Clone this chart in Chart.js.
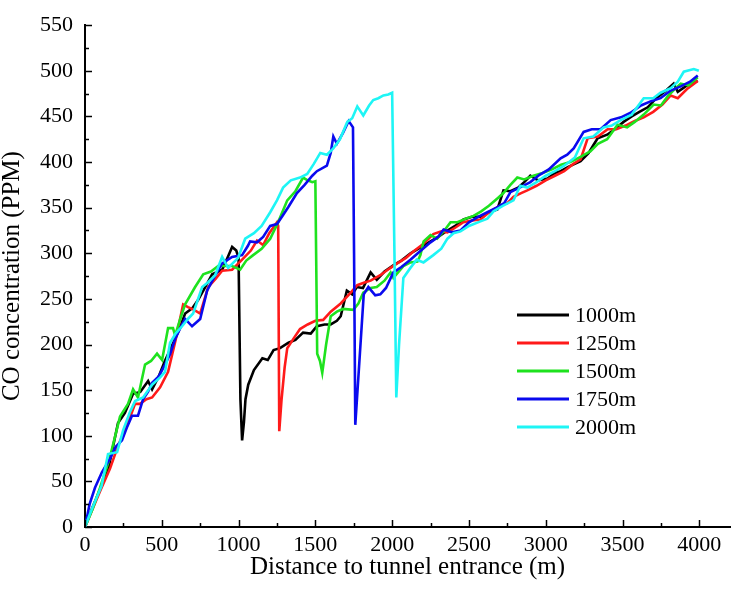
<!DOCTYPE html>
<html><head><meta charset="utf-8">
<script src="https://cdn.jsdelivr.net/npm/chart.js@4.4.0/dist/chart.umd.min.js"></script>
<style>html,body{margin:0;padding:0;background:#fff}#wrap{width:731px;height:592px}</style>
</head><body><div id="wrap"><canvas id="c" width="731" height="592"></canvas></div>
<script>
// ---- data ----
const seriesNames = ['1000m', '1250m', '1500m', '1750m', '2000m'];
const xTickValues = [0, 500, 1000, 1500, 2000, 2500, 3000, 3500, 4000];
const yTickValues = [0, 50, 100, 150, 200, 250, 300, 350, 400, 450, 500, 550];

const s1000 = [[0,0],[50,22],[100,42],[150,62],[215,114],[260,125],[313,146],[360,148],[411,160],[437,151],[480,165],[520,182],[567,199],[610,215],[652,234],[700,240],[737,249],[790,265],[828,277],[893,282],[930,296],[958,307],[985,303],[1000,295],[1012,140],[1023,95],[1035,115],[1045,140],[1063,156],[1100,172],[1155,185],[1190,183],[1228,194],[1270,196],[1325,202],[1370,205],[1420,213],[1470,212],[1510,220],[1560,222],[1600,222],[1640,226],[1665,231],[1705,259],[1740,255],[1770,263],[1810,262],[1860,279],[1900,271],[1950,280],[2010,287],[2060,292],[2120,300],[2180,306],[2250,313],[2300,318],[2360,325],[2410,330],[2465,337],[2520,340],[2575,340],[2630,345],[2685,348],[2725,369],[2770,368],[2820,372],[2860,378],[2900,385],[2950,380],[3012,382],[3060,388],[3097,390],[3150,395],[3227,401],[3280,410],[3312,419],[3338,426],[3400,430],[3450,436],[3507,444],[3560,450],[3610,455],[3664,460],[3720,470],[3780,478],[3833,486],[3860,477],[3920,484],[3990,489]];

const s1250 = [[0,0],[50,20],[100,40],[163,64],[215,89],[270,110],[326,135],[358,135],[400,140],[437,142],[489,153],[541,170],[590,205],[639,244],[671,241],[710,238],[750,234],[802,263],[850,272],[893,281],[958,282],[1023,293],[1080,303],[1120,314],[1160,309],[1200,322],[1250,334],[1258,330],[1265,105],[1280,140],[1300,175],[1317,196],[1360,207],[1400,217],[1450,222],[1500,226],[1551,227],[1600,236],[1665,245],[1720,255],[1773,265],[1820,268],[1860,270],[1923,276],[1980,283],[2033,289],[2090,295],[2138,302],[2200,310],[2268,321],[2320,324],[2360,323],[2410,328],[2464,334],[2520,336],[2575,337],[2640,346],[2700,352],[2750,355],[2790,362],[2840,366],[2880,369],[2940,374],[3000,380],[3060,385],[3120,390],[3180,398],[3227,403],[3273,426],[3340,428],[3403,436],[3460,436],[3520,440],[3580,445],[3638,449],[3700,455],[3760,463],[3814,473],[3860,470],[3920,480],[3990,489]];

const s1500 = [[0,0],[50,20],[98,43],[160,75],[228,121],[280,135],[313,151],[345,142],[391,178],[430,182],[469,190],[502,183],[541,218],[573,218],[587,210],[620,228],[652,244],[717,263],[770,277],[820,280],[867,286],[958,286],[1010,282],[1050,292],[1095,298],[1150,305],[1206,316],[1260,335],[1317,358],[1370,368],[1420,383],[1450,380],[1480,378],[1500,379],[1505,300],[1512,190],[1530,182],[1545,169],[1570,200],[1600,231],[1640,236],[1680,239],[1747,238],[1780,245],[1812,257],[1860,262],[1900,263],[1950,270],[1990,279],[2008,273],[2073,286],[2120,290],[2165,291],[2184,298],[2205,313],[2250,320],[2293,316],[2340,325],[2380,334],[2425,334],[2480,338],[2530,341],[2580,346],[2630,352],[2685,360],[2725,366],[2770,375],[2815,383],[2860,381],[2920,385],[2980,388],[3040,392],[3100,397],[3160,400],[3230,406],[3292,412],[3340,420],[3400,425],[3468,441],[3530,438],[3580,444],[3638,452],[3703,463],[3750,462],[3794,472],[3840,480],[3879,486],[3930,484],[3990,493]];

const s1750 = [[0,0],[30,25],[65,43],[110,60],[163,75],[200,88],[241,95],[275,110],[306,122],[345,122],[378,140],[410,148],[437,158],[480,165],[521,178],[555,190],[587,206],[620,218],[652,228],[697,220],[750,228],[795,259],[845,275],[893,289],[958,296],[1023,298],[1060,308],[1075,313],[1120,312],[1160,318],[1206,330],[1250,332],[1290,342],[1325,351],[1380,366],[1430,375],[1480,385],[1510,390],[1575,396],[1600,410],[1617,428],[1640,420],[1680,432],[1717,445],[1745,438],[1752,300],[1760,112],[1790,190],[1815,255],[1845,263],[1890,254],[1923,255],[1960,262],[2008,279],[2060,285],[2119,293],[2180,302],[2250,312],[2300,318],[2335,326],[2390,323],[2445,325],[2500,334],[2560,340],[2620,345],[2680,350],[2730,355],[2770,367],[2830,372],[2900,378],[2960,386],[3020,392],[3097,404],[3140,408],[3182,415],[3247,433],[3300,436],[3357,436],[3423,446],[3490,449],[3553,454],[3620,462],[3690,467],[3748,470],[3810,478],[3879,483],[3940,488],[3990,495]];

const s2000 = [[0,0],[50,22],[108,45],[150,80],[209,82],[248,106],[290,125],[326,138],[378,142],[437,156],[489,164],[521,170],[554,202],[590,212],[632,220],[670,228],[704,234],[763,263],[800,268],[847,276],[893,296],[932,284],[997,295],[1043,316],[1100,322],[1150,330],[1206,345],[1250,358],[1290,372],[1340,380],[1400,383],[1447,387],[1490,398],[1532,410],[1575,408],[1617,415],[1660,425],[1708,444],[1740,448],[1773,461],[1812,451],[1850,462],[1877,468],[1910,470],[1943,473],[1975,474],[2000,476],[2005,476],[2015,300],[2027,142],[2045,200],[2073,273],[2119,284],[2160,293],[2204,290],[2268,298],[2320,305],[2360,316],[2400,322],[2445,324],[2500,330],[2575,335],[2620,338],[2660,346],[2720,352],[2790,358],[2835,374],[2880,372],[2940,378],[3000,385],[3060,390],[3120,396],[3190,405],[3247,426],[3310,428],[3377,438],[3430,440],[3488,446],[3560,452],[3638,470],[3700,470],[3748,476],[3814,481],[3860,488],[3899,499],[3964,502],[3997,500]];

const seriesData = [s1000, s1250, s1500, s1750, s2000];

// ---- styles ----
const colors = ['#000000', '#ff1a1a', '#1ee21e', '#0a0aee', '#1ef5f5'];
const drawOrder = [5, 4, 3, 2, 1];
const FONT = "'Liberation Serif', 'Times New Roman', serif";

const innerTicks = {
  id: 'innerTicks',
  afterDraw(chart) {
    const ctx = chart.ctx, xs = chart.scales.x, ys = chart.scales.y, a = chart.chartArea;
    ctx.save();
    ctx.strokeStyle = '#000';
    ctx.lineWidth = 1.5;
    const xStep = (xTickValues[1] - xTickValues[0]) / 2;
    const yStep = (yTickValues[1] - yTickValues[0]) / 2;
    for (let v = xTickValues[0]; v <= xTickValues[xTickValues.length - 1]; v += xStep) {
      const p = Math.round(xs.getPixelForValue(v)) + 0.5;
      const L = (v % (2 * xStep) === 0) ? 7 : 4;
      ctx.beginPath(); ctx.moveTo(p, a.bottom); ctx.lineTo(p, a.bottom - L); ctx.stroke();
    }
    for (let v = yTickValues[0]; v <= yTickValues[yTickValues.length - 1]; v += yStep) {
      const p = Math.round(ys.getPixelForValue(v)) + 0.5;
      const L = (v % (2 * yStep) === 0) ? 7 : 4;
      ctx.beginPath(); ctx.moveTo(a.left, p); ctx.lineTo(a.left + L, p); ctx.stroke();
    }
    ctx.restore();
  }
};

const innerLegend = {
  id: 'innerLegend',
  afterDraw(chart) {
    const ctx = chart.ctx;
    const x0 = 517, x1 = 569, tx = 575, y0 = 315, dy = 28;
    ctx.save();
    ctx.font = "22px " + FONT;
    ctx.textBaseline = 'middle';
    ctx.textAlign = 'left';
    chart.data.datasets.forEach((ds, i) => {
      const y = y0 + i * dy;
      ctx.strokeStyle = ds.borderColor;
      ctx.lineWidth = 3;
      ctx.beginPath(); ctx.moveTo(x0, y); ctx.lineTo(x1, y); ctx.stroke();
      ctx.fillStyle = '#000';
      ctx.fillText(ds.label, tx, y + 1);
    });
    ctx.restore();
  }
};

const datasets = seriesNames.map((name, i) => ({
  label: name,
  data: seriesData[i].map(p => ({ x: p[0], y: p[1] })),
  borderColor: colors[i],
  backgroundColor: colors[i],
  borderWidth: 2.6,
  pointRadius: 0,
  tension: 0,
  fill: false,
  order: drawOrder[i]
}));

new Chart(document.getElementById('c'), {
  type: 'line',
  data: { datasets },
  plugins: [innerTicks, innerLegend],
  options: {
    responsive: false,
    animation: false,
    devicePixelRatio: 1,
    layout: { autoPadding: false, padding: { top: 10, right: 1, left: 0, bottom: 0 } },
    plugins: { legend: { display: false }, tooltip: { enabled: false } },
    scales: {
      x: {
        type: 'linear', min: 0, max: 4200,
        afterBuildTicks: s => { s.ticks = xTickValues.map(v => ({ value: v })); },
        afterFit: s => { s.height = 65; },
        grid: { display: false, drawTicks: false },
        border: { display: true, color: '#000', width: 2 },
        ticks: { color: '#000', font: { family: FONT, size: 22 }, padding: 5, maxRotation: 0, autoSkip: false,
                 callback: v => String(v) },
        title: { display: true, text: 'Distance to tunnel entrance (m)', color: '#000',
                 font: { family: FONT, size: 25, lineHeight: 1 }, padding: { top: 0, bottom: 12 } }
      },
      y: {
        type: 'linear', min: 0, max: 550,
        afterBuildTicks: s => { s.ticks = yTickValues.map(v => ({ value: v })); },
        afterFit: s => { s.width = 85; },
        grid: { display: false, drawTicks: false },
        border: { display: true, color: '#000', width: 2 },
        ticks: { color: '#000', font: { family: FONT, size: 22 }, padding: 12, autoSkip: false,
                 callback: v => String(v) },
        title: { display: true, text: 'CO concentration (PPM)', color: '#000',
                 font: { family: FONT, size: 25, lineHeight: 1 }, padding: { top: 0, bottom: 0 } }
      }
    }
  }
});
</script></body></html>
